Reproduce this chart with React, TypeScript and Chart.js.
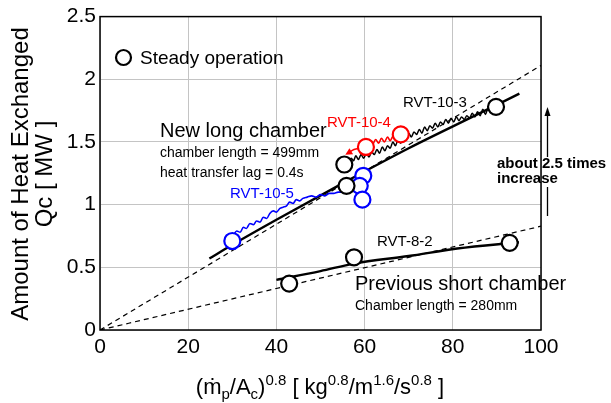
import React, { useEffect, useRef } from "react";
import { Chart, registerables } from "chart.js";

Chart.register(...registerables);

const FONT = '"Liberation Sans", Arial, Helvetica, sans-serif';

// ---- axis ranges / ticks ----
const xMin = 0;
const xMax = 100;
const xStep = 20;
const yMin = 0;
const yMax = 2.5;
const yStep = 0.5;

// ---- steady operation points (black circles) ----
const steadyX = [42.9, 57.6, 92.9, 55.4, 55.9, 89.8];
const steadyY = [0.37, 0.58, 0.695, 1.32, 1.15, 1.78];

// ---- RVT-10-4 (red) ----
const rvt104CircleX = [60.3, 68.2];
const rvt104CircleY = [1.46, 1.56];
const rvt104TraceX = [68.0, 67.2, 66.5, 65.8, 65.2, 64.5, 63.8, 63.2, 62.5, 61.8, 61.2, 60.3, 59.0, 57.6, 56.2];
const rvt104TraceY = [1.55, 1.52, 1.55, 1.51, 1.54, 1.50, 1.53, 1.49, 1.52, 1.48, 1.50, 1.46, 1.45, 1.44, 1.41];

// ---- RVT-10-5 (blue) ----
const rvt105CircleX = [30.0, 59.7, 58.9, 59.5];
const rvt105CircleY = [0.71, 1.23, 1.15, 1.04];
const rvt105TraceX = [30.3, 31.0, 31.8, 32.5, 33.2, 34.0, 34.8, 35.5, 36.3, 37.0, 37.8, 38.5, 39.3, 40.0, 40.8, 41.5, 42.3, 43.0, 43.8, 44.5, 45.3, 46.0, 47.0, 48.0, 49.0, 50.0, 51.0, 52.0, 53.0, 54.0, 55.0, 56.0, 57.0, 58.0, 59.0, 59.6];
const rvt105TraceY = [0.76, 0.79, 0.78, 0.82, 0.81, 0.85, 0.84, 0.87, 0.86, 0.90, 0.89, 0.93, 0.95, 0.94, 0.97, 0.98, 0.99, 1.02, 1.01, 1.04, 1.03, 1.05, 1.06, 1.07, 1.06, 1.08, 1.07, 1.09, 1.09, 1.10, 1.10, 1.11, 1.12, 1.14, 1.18, 1.22];

// ---- RVT-10-3 (black trace) ----
const rvt103TraceX = [56.5, 57.0, 57.5, 58.0, 58.6, 59.2, 59.8, 60.4, 61.0, 61.6, 62.2, 62.8, 63.4, 64.0, 64.6, 65.2, 65.8, 66.4, 67.0, 67.6, 68.2, 68.8, 69.4, 70.0, 70.6, 71.2, 71.8, 72.4, 73.0, 73.6, 74.2, 74.8, 75.4, 76.0, 76.6, 77.2, 77.8, 78.4, 79.0, 79.6, 80.2, 80.8, 81.4, 82.0, 82.6, 83.2, 83.8, 84.4, 85.0, 85.6, 86.2, 86.8, 87.4, 88.0, 88.6, 89.2];
const rvt103TraceY = [1.33, 1.37, 1.35, 1.39, 1.36, 1.40, 1.37, 1.41, 1.38, 1.42, 1.40, 1.44, 1.41, 1.46, 1.43, 1.47, 1.45, 1.50, 1.47, 1.52, 1.49, 1.54, 1.52, 1.57, 1.54, 1.58, 1.56, 1.60, 1.57, 1.62, 1.59, 1.63, 1.61, 1.65, 1.62, 1.66, 1.64, 1.68, 1.65, 1.69, 1.66, 1.70, 1.67, 1.70, 1.68, 1.71, 1.69, 1.73, 1.70, 1.74, 1.71, 1.76, 1.72, 1.77, 1.75, 1.78];

// ---- fitted curves ----
const fitLongX = [24.8, 30, 40, 55, 70, 85, 95.1];
const fitLongY = [0.57, 0.68, 0.88, 1.17, 1.45, 1.71, 1.885];
const fitShortX = [40, 50, 57.6, 70, 81, 95];
const fitShortY = [0.40, 0.47, 0.53, 0.59, 0.65, 0.70];

// ---- proportional (dashed) reference lines through origin ----
const refLongX = [0, 100];
const refLongY = [0, 2.11];
const refShortX = [0, 100];
const refShortY = [0, 0.828];

const pts = (xs: number[], ys: number[]) => xs.map((x, i) => ({ x, y: ys[i] }));

type Label = { text: string; x: number; y: number; size: number; color?: string; bold?: boolean };
const labels: Label[] = [
  { text: "Steady operation", x: 140, y: 64, size: 19 },
  { text: "New long chamber", x: 160, y: 137, size: 20 },
  { text: "chamber length = 499mm", x: 160, y: 157, size: 14 },
  { text: "heat transfer lag = 0.4s", x: 160, y: 177, size: 14 },
  { text: "RVT-10-4", x: 327, y: 127, size: 15, color: "#ff0000" },
  { text: "RVT-10-3", x: 403, y: 107, size: 15 },
  { text: "RVT-10-5", x: 230, y: 198, size: 15, color: "#0000ff" },
  { text: "RVT-8-2", x: 377, y: 246, size: 15 },
  { text: "Previous short chamber", x: 355, y: 290, size: 20 },
  { text: "Chamber length = 280mm", x: 355, y: 310, size: 14 },
  { text: "about 2.5 times", x: 497, y: 168, size: 15, bold: true },
  { text: "increase", x: 497, y: 183, size: 15, bold: true },
];

const overlay = {
  id: "overlay",
  afterDatasetsDraw(chart: any) {
    const { ctx, chartArea: a, scales } = chart;
    const xs = scales.x;
    const ys = scales.y;
    ctx.save();
    // frame
    ctx.strokeStyle = "#000";
    ctx.lineWidth = 1.5;
    ctx.strokeRect(a.left, a.top, a.right - a.left, a.bottom - a.top);

    // red arrow head at end of RVT-10-4 trace
    const n = rvt104TraceX.length;
    const px1 = xs.getPixelForValue(rvt104TraceX[n - 2]);
    const py1 = ys.getPixelForValue(rvt104TraceY[n - 2]);
    const px2 = xs.getPixelForValue(rvt104TraceX[n - 1]);
    const py2 = ys.getPixelForValue(rvt104TraceY[n - 1]);
    const ang = Math.atan2(py2 - py1, px2 - px1);
    ctx.fillStyle = "#ff0000";
    ctx.beginPath();
    ctx.moveTo(px2 + 3 * Math.cos(ang), py2 + 3 * Math.sin(ang));
    ctx.lineTo(px2 - 4 * Math.cos(ang) - 3.5 * Math.sin(ang), py2 - 4 * Math.sin(ang) + 3.5 * Math.cos(ang));
    ctx.lineTo(px2 - 4 * Math.cos(ang) + 3.5 * Math.sin(ang), py2 - 4 * Math.sin(ang) - 3.5 * Math.cos(ang));
    ctx.closePath();
    ctx.fill();

    // legend marker
    ctx.strokeStyle = "#000";
    ctx.lineWidth = 2.2;
    ctx.fillStyle = "#fff";
    ctx.beginPath();
    ctx.arc(123.5, 57.5, 7.5, 0, Math.PI * 2);
    ctx.fill();
    ctx.stroke();

    // vertical increase arrow (interrupted by the text)
    ctx.strokeStyle = "#000";
    ctx.fillStyle = "#000";
    ctx.lineWidth = 1.3;
    ctx.beginPath();
    ctx.moveTo(547.5, 157);
    ctx.lineTo(547.5, 114);
    ctx.moveTo(547.5, 216);
    ctx.lineTo(547.5, 187);
    ctx.stroke();
    ctx.beginPath();
    ctx.moveTo(547.5, 107);
    ctx.lineTo(544.5, 116);
    ctx.lineTo(550.5, 116);
    ctx.closePath();
    ctx.fill();

    // text labels
    ctx.textBaseline = "alphabetic";
    ctx.textAlign = "left";
    for (const l of labels) {
      ctx.font = `${l.bold ? "bold " : ""}${l.size}px ${FONT}`;
      ctx.fillStyle = l.color || "#000";
      ctx.fillText(l.text, l.x, l.y);
    }

    // y-axis title (two lines, rotated)
    ctx.save();
    ctx.translate(0, 174);
    ctx.rotate(-Math.PI / 2);
    ctx.textAlign = "center";
    ctx.font = `24px ${FONT}`;
    ctx.fillStyle = "#000";
    ctx.fillText("Amount of Heat Exchanged", 0, 28);
    ctx.fillText("Qc [ MW ]", 0, 52);
    ctx.restore();

    // x-axis title with sub/superscripts
    const segs: { t: string; k: "n" | "sub" | "sup" }[] = [
      { t: "(", k: "n" },
      { t: "ṁ", k: "n" },
      { t: "p", k: "sub" },
      { t: "/A", k: "n" },
      { t: "c", k: "sub" },
      { t: ")", k: "n" },
      { t: "0.8", k: "sup" },
      { t: " [ kg", k: "n" },
      { t: "0.8", k: "sup" },
      { t: "/m", k: "n" },
      { t: "1.6", k: "sup" },
      { t: "/s", k: "n" },
      { t: "0.8", k: "sup" },
      { t: " ]", k: "n" },
    ];
    const mainF = `22px ${FONT}`;
    const smallF = `15px ${FONT}`;
    let total = 0;
    for (const s of segs) {
      ctx.font = s.k === "n" ? mainF : smallF;
      total += ctx.measureText(s.t).width;
    }
    let cx = 320 - total / 2;
    const base = 394;
    ctx.textAlign = "left";
    ctx.fillStyle = "#000";
    for (const s of segs) {
      ctx.font = s.k === "n" ? mainF : smallF;
      const dy = s.k === "sub" ? 5 : s.k === "sup" ? -9 : 0;
      ctx.fillText(s.t, cx, base + dy);
      cx += ctx.measureText(s.t).width;
    }
    ctx.restore();
  },
};

export default function App() {
  const ref = useRef<HTMLCanvasElement | null>(null);
  useEffect(() => {
    if (!ref.current) return;
    Chart.defaults.font.family = FONT;
    const circle = (color: string) => ({
      showLine: false,
      pointRadius: 8,
      pointHoverRadius: 8,
      pointBorderWidth: 2.2,
      pointBorderColor: color,
      pointBackgroundColor: "#ffffff",
      borderColor: color,
      backgroundColor: "#ffffff",
    });
    const line = (color: string, width: number, dash: number[] = [], tension = 0) => ({
      showLine: true,
      borderColor: color,
      borderWidth: width,
      borderDash: dash,
      pointRadius: 0,
      pointHoverRadius: 0,
      tension,
      fill: false,
    });
    const chart = new Chart(ref.current, {
      type: "scatter",
      data: {
        datasets: [
          { label: "Steady operation", data: pts(steadyX, steadyY), ...circle("#000000") },
          { label: "RVT-10-4 steady", data: pts(rvt104CircleX, rvt104CircleY), ...circle("#ff0000") },
          { label: "RVT-10-5 steady", data: pts(rvt105CircleX, rvt105CircleY), ...circle("#0000ff") },
          { label: "RVT-10-4", data: pts(rvt104TraceX, rvt104TraceY), ...line("#ff0000", 1.6) },
          { label: "RVT-10-5", data: pts(rvt105TraceX, rvt105TraceY), ...line("#0000ff", 1.6) },
          { label: "RVT-10-3", data: pts(rvt103TraceX, rvt103TraceY), ...line("#000000", 1.5) },
          { label: "fit long", data: pts(fitLongX, fitLongY), ...line("#000000", 2.4, [], 0.4) },
          { label: "fit short", data: pts(fitShortX, fitShortY), ...line("#000000", 2.4, [], 0.4) },
          { label: "ref long", data: pts(refLongX, refLongY), ...line("#000000", 1.2, [5, 4]) },
          { label: "ref short", data: pts(refShortX, refShortY), ...line("#000000", 1.2, [5, 4]) },
        ],
      },
      options: {
        animation: false,
        responsive: false,
        maintainAspectRatio: false,
        layout: { padding: { top: 16, right: 70, left: 0, bottom: 0 } },
        plugins: { legend: { display: false }, tooltip: { enabled: false } },
        elements: { line: { cubicInterpolationMode: "monotone" } },
        scales: {
          x: {
            type: "linear",
            min: xMin,
            max: xMax,
            ticks: { stepSize: xStep, color: "#000", font: { size: 21 }, padding: 5, maxRotation: 0 },
            grid: { color: "#c4c4c4", lineWidth: 1, drawTicks: false },
            border: { display: false },
            afterFit: (s: any) => {
              s.height = 73;
            },
          },
          y: {
            type: "linear",
            min: yMin,
            max: yMax,
            ticks: {
              stepSize: yStep,
              color: "#000",
              font: { size: 21 },
              padding: 4,
              callback: (v: any) => String(Number(v)),
            },
            grid: { color: "#c4c4c4", lineWidth: 1, drawTicks: false },
            border: { display: false },
            afterFit: (s: any) => {
              s.width = 100;
            },
          },
        },
      },
      plugins: [overlay],
    });
    return () => chart.destroy();
  }, []);
  return (
    <div style={{ position: "fixed", left: 0, top: 0, width: 611, height: 403, background: "#fff" }}>
      <canvas ref={ref} width={611} height={403} style={{ width: 611, height: 403, display: "block" }} />
    </div>
  );
}
